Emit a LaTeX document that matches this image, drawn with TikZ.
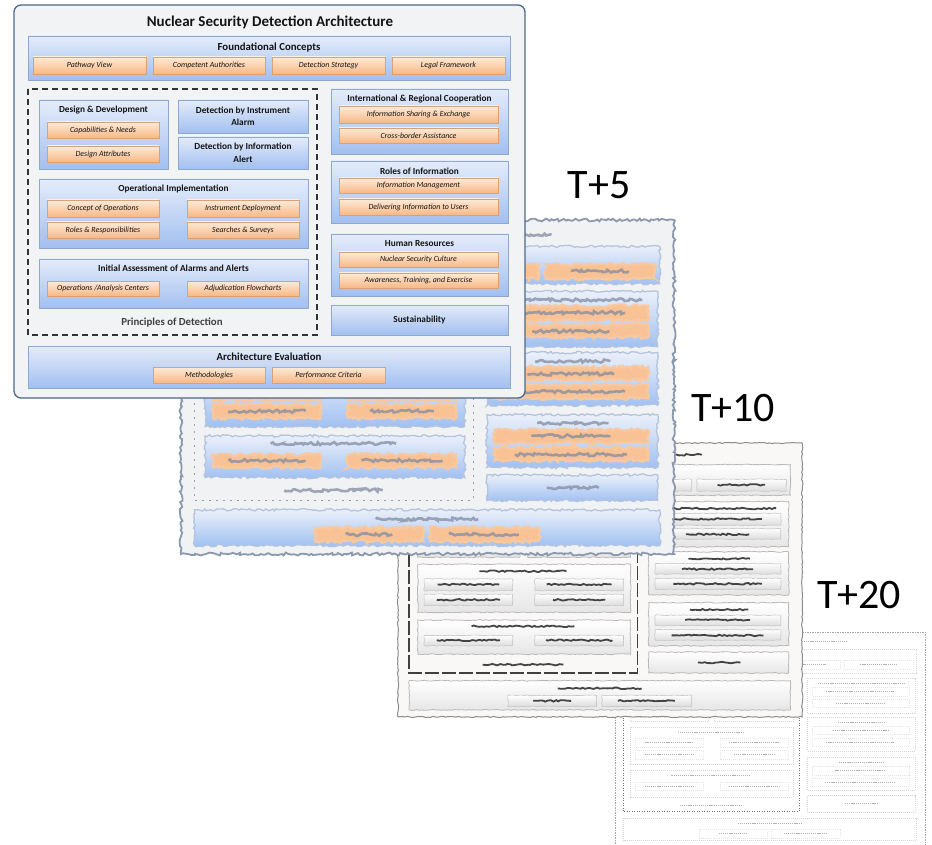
\documentclass[tikz,border=0pt]{standalone}
\usepackage{fontspec}
\setmainfont{Carlito}
\usetikzlibrary{positioning,shadows,decorations.pathmorphing}

\definecolor{framefill}{HTML}{F2F3F5}
\definecolor{frameline}{HTML}{4E6788}
\definecolor{bluetop}{HTML}{E4ECFA}
\definecolor{bluebot}{HTML}{A2BFF0}
\definecolor{blueline}{HTML}{8EA8CE}
\definecolor{orangetop}{HTML}{FDEBD8}
\definecolor{orangebot}{HTML}{F8B886}
\definecolor{orangeline}{HTML}{D8A274}
\definecolor{inktext}{HTML}{141414}

\tikzset{
  arch frame/.style={draw=frameline, line width=1.3pt, fill=framefill, rounded corners=7pt},
  arch blue/.style={draw=blueline, line width=.6pt, top color=bluetop, bottom color=bluebot,
    drop shadow={shadow xshift=1.2pt, shadow yshift=-1.2pt, opacity=.25}},
  arch orange/.style={draw=orangeline, line width=.5pt, top color=orangetop, bottom color=orangebot,
    drop shadow={shadow xshift=1pt, shadow yshift=-1pt, opacity=.3}},
  arch dash/.style={draw=black!80, line width=1.5pt, dash pattern=on 6pt off 4pt},
  arch smear/.style={draw=none},
  ragged/.style={decorate, decoration={random steps, segment length=2.5pt, amplitude=#1}},
  head/.style={font=\bfseries\fontsize{15}{17}\selectfont, text=inktext, inner sep=0pt},
  sec/.style={font=\bfseries\fontsize{9.3}{12.5}\selectfont, text=inktext, inner sep=0pt},
  sec big/.style={font=\bfseries\fontsize{10.8}{13}\selectfont, text=inktext, inner sep=0pt},
  item/.style={font=\itshape\fontsize{7.9}{9}\selectfont, text=inktext, inner sep=0pt},
  tlabel/.style={font=\fontsize{42}{42}\selectfont, text=black, inner sep=0pt}
}

% boxes of the architecture, in pixel units of the main frame
\newcommand{\archboxes}{%
  \path[arch frame] (14,5) rectangle (525,398);
  \foreach \xa/\ya/\xb/\yb in {28/36/510/80, 39/100/168/169, 178/100/308/133,
      178/137/308/169, 39/179/308/248, 39/259/308/308, 331/89/508/154,
      331/161/508/223, 331/234/508/296, 331/305/508/335, 28/346/510/388}
    \path[arch blue] (\xa,\ya) rectangle (\xb,\yb);
  \foreach \xa/\ya/\xb/\yb in {33/57/146/74, 153/57/265/74, 272/57/385/74, 392/57/505/74,
      47/122/159/138, 47/146/159/162, 47/200/159/217, 187/200/299/217,
      47/222/159/238, 187/222/299/238, 47/281/159/296, 187/281/299/296,
      339/106/498/123, 339/128/498/143, 339/178/498/193, 339/199/498/215,
      339/252/498/267, 339/273/498/288, 153/367/265/383, 272/367/385/383}
    \path[arch orange] (\xa,\ya) rectangle (\xb,\yb);
  \path[arch dash] (28,89) rectangle (317,335);
}

% worn-out text of the copies
\newcommand{\archsmear}{%
  \foreach \cx/\cy/\hw in {270/22/128, 269/48/52, 89/65/24, 209/65/40, 328/65/33, 448/65/30,
      103/110/44, 103/130/28, 103/154/25, 243/110/47, 243/122/12, 243/147/49, 243/159/10,
      172/189/55, 103/208/39, 243/208/41, 103/230/40, 243/230/33,
      172/268/65, 103/288/40, 243/288/42, 172/323/51,
      420/99/72, 418/114/56, 418/136/40, 420/171/39, 418/186/45, 418/207/56,
      420/244/37, 418/259/41, 418/281/58, 420/320/27,
      269/357/53, 209/375/24, 328/375/36}
    \draw[arch smear] (\cx-\hw,\cy) -- (\cx+\hw,\cy);
}

\begin{document}
\begin{tikzpicture}[x=1pt, y=-1pt]
\useasboundingbox (0,0) rectangle (932,845);
\fill[white] (0,0) rectangle (932,845);
\clip (0,0) rectangle (932,845);

% T+20
\begin{scope}[shift={(615,632)}, xscale=.607, yscale=.545, shift={(-14,-5)},
  arch frame/.style={draw=black!35, line width=.6pt, fill=white, dash pattern=on 1.5pt off 1pt},
  arch blue/.style={draw=black!16, line width=.5pt, fill=white, dash pattern=on 1pt off 1pt},
  arch orange/.style={draw=black!10, line width=.4pt, dash pattern=on 1pt off 1pt},
  arch dash/.style={draw=black!55, line width=.8pt, dash pattern=on 1pt off 1.5pt},
  arch smear/.style={draw=black!30, line width=1.1pt, dash pattern=on 1.2pt off .9pt}]
  \archboxes
  \archsmear
\end{scope}

% T+10
\begin{scope}[shift={(398,443)}, xscale=.791, yscale=.697, shift={(-14,-5)},
  arch frame/.style={draw=black!45, line width=1pt, fill={rgb,255:red,250;green,247;blue,247}, ragged=.6pt},
  arch blue/.style={draw=black!28, line width=.8pt, top color=white, bottom color=black!10, ragged=.5pt},
  arch orange/.style={draw=black!22, line width=.6pt, top color=white, bottom color=black!14, ragged=.4pt},
  arch dash/.style={draw=black!75, line width=1.3pt, dash pattern=on 14pt off 3pt},
  arch smear/.style={draw=black!85, line width=1.8pt, opacity=.85, ragged=.8pt}]
  \archboxes
  \archsmear
\end{scope}

% T+5
\begin{scope}[shift={(181,220)}, xscale=.965, yscale=.85, shift={(-14,-5)},
  arch frame/.style={draw={rgb,255:red,140;green,152;blue,172}, line width=1.8pt,
    fill={rgb,255:red,240;green,242;blue,244}, ragged=1.5pt},
  arch blue/.style={draw={rgb,255:red,180;green,196;blue,222}, line width=1.3pt,
    top color={rgb,255:red,236;green,241;blue,250}, bottom color={rgb,255:red,160;green,192;blue,242}, ragged=1.2pt},
  arch orange/.style={draw={rgb,255:red,248;green,200;blue,160}, line width=2.2pt,
    fill={rgb,255:red,248;green,194;blue,148}, ragged=1.6pt},
  arch dash/.style={draw={rgb,255:red,150;green,160;blue,176}, line width=1.4pt, dash pattern=on 2pt off 5pt},
  arch smear/.style={draw={rgb,255:red,130;green,140;blue,162}, line width=2.6pt, opacity=.75, ragged=1.5pt}]
  \archboxes
  \archsmear
\end{scope}

% the architecture itself
\archboxes
\node[head] (title) at (270,22) {Nuclear Security Detection Architecture};
\node[sec big] (found) at (269,48) {Foundational Concepts};
\node[item] (pathway) at (89.5,65.5) {Pathway View};
\node[item] (compet) at (209,65.5) {Competent Authorities};
\node[item] (strategy) at (328.5,65.5) {Detection Strategy};
\node[item] (legal) at (448.5,65.5) {Legal Framework};
\node[sec] (design) at (103.5,110) {Design \& Development};
\node[item] (capab) at (103,130) {Capabilities \& Needs};
\node[item] (attrib) at (103,154) {Design Attributes};
\node[sec, align=center] (instr) at (243,116.5) {Detection by Instrument\\Alarm};
\node[sec, align=center] (inform) at (243,153) {Detection by Information\\Alert};
\node[sec] (opimpl) at (173.5,189) {Operational Implementation};
\node[item] (conops) at (103,208.5) {Concept of Operations};
\node[item] (deploy) at (243,208.5) {Instrument Deployment};
\node[item] (roles) at (103,230) {Roles \& Responsibilities};
\node[item] (search) at (243,230) {Searches \& Surveys};
\node[sec] (assess) at (173.5,268) {Initial Assessment of Alarms and Alerts};
\node[item] (centers) at (103,288.5) {Operations /Analysis Centers};
\node[item] (flow) at (243,288.5) {Adjudication Flowcharts};
\node[sec big, text=black!75] (princ) at (172,323) {Principles of Detection};
\node[sec] (coop) at (419.5,99) {International \& Regional Cooperation};
\node[item] (sharing) at (418.5,114.5) {Information Sharing \& Exchange};
\node[item] (border) at (418.5,135.5) {Cross-border Assistance};
\node[sec] (rolesinfo) at (419.5,171) {Roles of Information};
\node[item] (infomgmt) at (418.5,185.5) {Information Management};
\node[item] (deliver) at (418.5,207) {Delivering Information to Users};
\node[sec] (human) at (419.5,244) {Human Resources};
\node[item] (culture) at (418.5,259.5) {Nuclear Security Culture};
\node[item] (aware) at (418.5,280.5) {Awareness, Training, and Exercise};
\node[sec] (sustain) at (419.5,320) {Sustainability};
\node[sec big] (evalu) at (269,357) {Architecture Evaluation};
\node[item] (method) at (209,375) {Methodologies};
\node[item] (perf) at (328.5,375) {Performance Criteria};

% time labels
\node[tlabel] (t5) at (599,185) {T+5};
\node[tlabel] (t10) at (733,408) {T+10};
\node[tlabel] (t20) at (859,595) {T+20};
\end{tikzpicture}
\end{document}
